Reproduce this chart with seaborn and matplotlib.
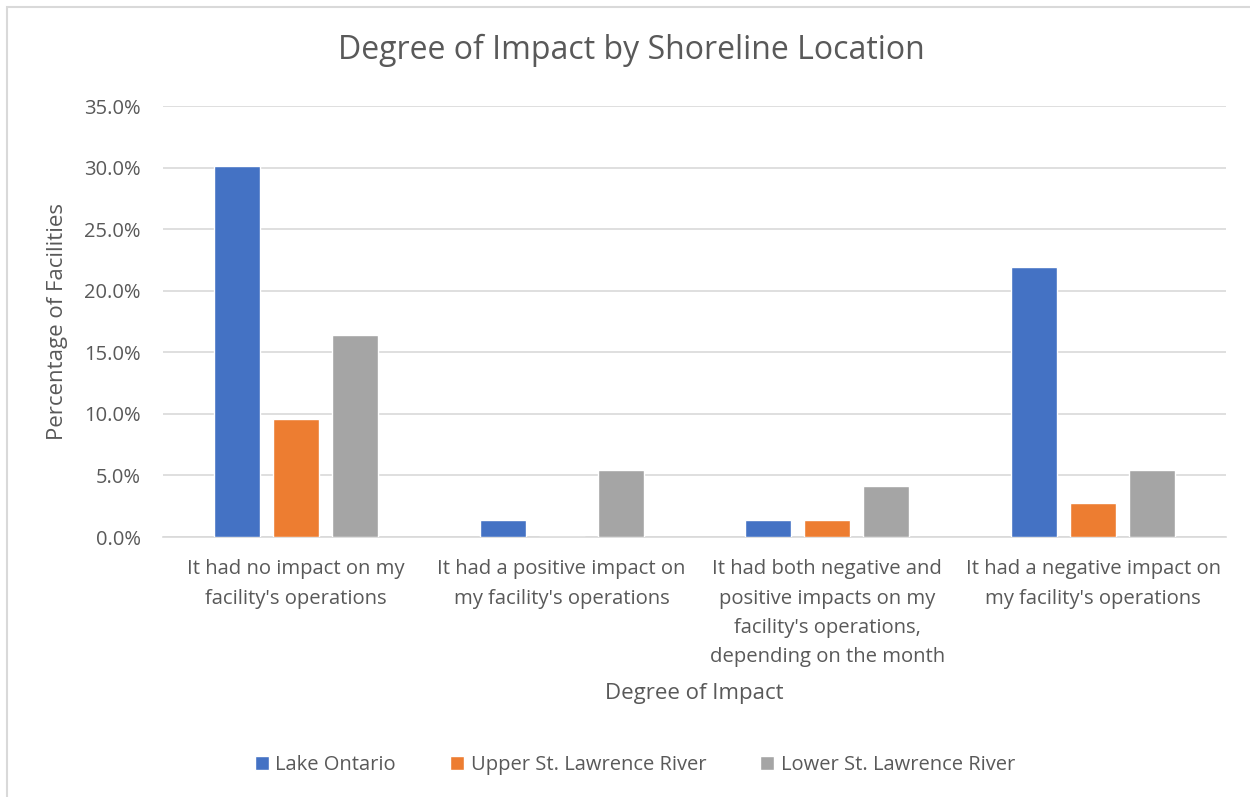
import matplotlib
matplotlib.use("Agg")
import matplotlib.pyplot as plt
import matplotlib.ticker as mtick
from matplotlib.patches import Rectangle
import pandas as pd
import seaborn as sns

# values (share of facilities, %)
categories = [
    "It had no impact on my\nfacility's operations",
    "It had a positive impact on\nmy facility's operations",
    "It had both negative and\npositive impacts on my\nfacility's operations,\ndepending on the month",
    "It had a negative impact on\nmy facility's operations",
]
locations = ["Lake Ontario", "Upper St. Lawrence River", "Lower St. Lawrence River"]
lake_ontario = [30.1, 1.37, 1.37, 21.9]
upper_st_lawrence = [9.59, 0.0, 1.37, 2.74]
lower_st_lawrence = [16.4, 5.48, 4.11, 5.48]
colours = ["#4472C4", "#ED7D31", "#A5A5A5"]

df = pd.DataFrame({
    "impact": categories * 3,
    "location": [loc for loc in locations for _ in categories],
    "pct": lake_ontario + upper_st_lawrence + lower_st_lawrence,
})

sns.set_style("white")
plt.rcParams["font.family"] = ["Open Sans", "DejaVu Sans"]
text_col = "#595959"

fig = plt.figure(figsize=(12.5, 7.97), dpi=100)
ax = fig.add_axes([0.1304, 0.3262, 0.8504, 0.5408])

sns.barplot(data=df, x="impact", y="pct", hue="location", palette=colours,
            saturation=1, width=0.666, gap=0.22, ax=ax, legend=True, zorder=3)

ax.set_ylim(0, 35)
ax.set_yticks(range(0, 36, 5))
ax.yaxis.set_major_formatter(mtick.FuncFormatter(lambda v, p: f"{v:.1f}%"))
ax.grid(axis="y", color="#D9D9D9", linewidth=1.2, zorder=0)
for s in ["top", "right", "left"]:
    ax.spines[s].set_visible(False)
ax.spines["bottom"].set_color("#D9D9D9")
ax.spines["bottom"].set_linewidth(1.2)
ax.tick_params(axis="both", length=0, labelcolor=text_col)
ax.tick_params(axis="y", labelsize=14.5, pad=16)
ax.tick_params(axis="x", labelsize=14.6, pad=16)
for lbl in ax.get_xticklabels():
    lbl.set_linespacing(1.62)
ax.set_xlim(-0.5, 3.5)

ax.set_xlabel("Degree of Impact", fontsize=16, color=text_col)
ax.set_ylabel("Percentage of Facilities", fontsize=16, color=text_col)
ax.xaxis.set_label_coords(0.4995, -0.362)
ax.xaxis.label.set_va("center")
ax.yaxis.set_label_coords(-0.099, 0.5)
ax.yaxis.label.set_va("center")
fig.text(0.505, 0.937, "Degree of Impact by Shoreline Location", ha="center", va="center",
         fontsize=23, color=text_col)

handles, labels = ax.get_legend_handles_labels()
ax.legend_.remove()
fig.legend(handles, labels, loc="center", bbox_to_anchor=(0.508, 0.04), ncol=3,
           frameon=False, fontsize=14.5, labelcolor=text_col, handlelength=0.7,
           handleheight=0.7, handletextpad=0.3, columnspacing=2.7)

# chart frame (only the top and left edges are inside the picture)
fig.patches.append(Rectangle((0.0058, -0.05), 1.1, 1.0406, transform=fig.transFigure,
                             fill=False, edgecolor="#D9D9D9", linewidth=1.5))

fig.savefig("out.png", dpi=100)
